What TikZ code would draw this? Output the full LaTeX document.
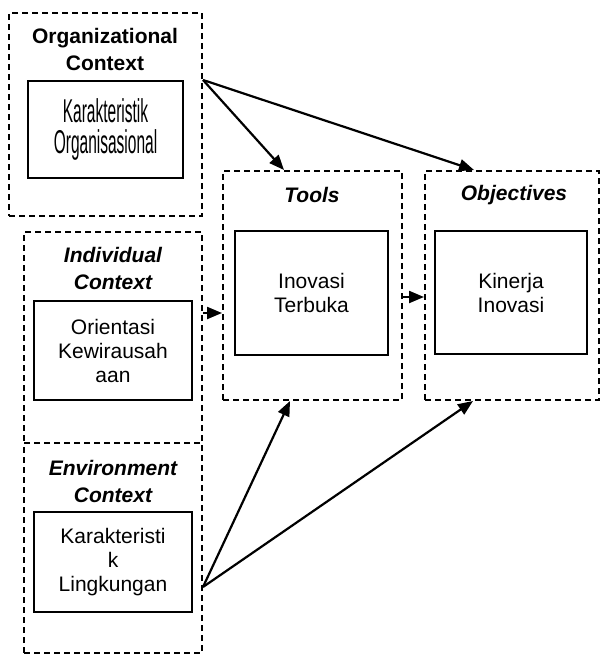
\documentclass[tikz,border=0pt]{standalone}
\usepackage{fontspec}
\setmainfont{Liberation Sans}
\newfontfamily\narrowfont[FakeStretch=0.47]{Liberation Sans}
\usetikzlibrary{arrows.meta,calc}

\begin{document}
\begin{tikzpicture}[
  x=1pt, y=-1pt,
  ctxbox/.style={draw, dashed, dash pattern=on 6pt off 4pt, line width=2pt, inner sep=0pt},
  varbox/.style={draw, line width=1.8pt, inner sep=0pt, align=center,
    font=\fontsize{21}{24}\selectfont},
  ctxtitle/.style={align=center, font=\fontsize{21}{27}\selectfont\bfseries},
  arr/.style={-{Triangle[length=15pt,width=12pt]}, line width=2.2pt},
]
\useasboundingbox (0,0) rectangle (601,655);

% ---------- context boxes ----------
\node[ctxbox, minimum width=193pt, minimum height=203pt] (org)   at (105.5,114.5) {};
\node[ctxbox, minimum width=178pt, minimum height=211pt] (indiv) at (113,337.5) {};
\node[ctxbox, minimum width=178pt, minimum height=210pt] (env)   at (113,548) {};
\node[ctxbox, minimum width=179pt, minimum height=229pt] (tools) at (312.5,285.5) {};
\node[ctxbox, minimum width=174pt, minimum height=229pt] (obj)   at (512,285.5) {};

% ---------- titles ----------
\node[ctxtitle] (orgT)   at (105,49)  {Organizational\\Context};
\node[ctxtitle] (indivT) at (113,268) {\itshape Individual\\\itshape Context};
\node[ctxtitle] (envT)   at (113,481) {\itshape Environment\\\itshape Context};
\node[ctxtitle] (toolsT) at (312,195) {\itshape Tools};
\node[ctxtitle] (objT)   at (514,195) {\itshape Objectives};

% ---------- variables ----------
\node[varbox, minimum width=155pt, minimum height=97pt,
  font=\fontsize{33}{31}\selectfont\narrowfont] (karOrg) at (105.5,129.5)
  {Karakteristik\\Organisasional};
\node[varbox, minimum width=158pt, minimum height=99pt]  (ok)     at (113,350.5) {Orientasi\\Kewirausah\\aan};
\node[varbox, minimum width=158pt, minimum height=100pt] (karLing) at (113,562)  {Karakteristi\\k\\Lingkungan};
\node[varbox, minimum width=153pt, minimum height=124pt] (inov)   at (311.5,293) {Inovasi\\Terbuka};
\node[varbox, minimum width=152pt, minimum height=123pt] (kin)    at (511,292.5) {Kinerja\\Inovasi};

% ---------- arrows ----------
\coordinate (orgOut) at ([yshift=34.5pt]org.east);
\coordinate (envOut) at ([yshift=-39pt]env.east);
\coordinate (toolsIn) at ([yshift=-27.5pt]tools.west);
\coordinate (objIn) at ([yshift=-11.5pt]obj.west);

\draw[arr] (orgOut) -- ([xshift=62pt]tools.north west);
\draw[arr] (orgOut) -- ([xshift=50pt]obj.north west);
\draw[arr] (indiv.east |- toolsIn) -- (toolsIn);
\draw[arr] (tools.east |- objIn) -- (objIn);
\draw[arr] (envOut) -- ([xshift=68pt]tools.south west);
\draw[arr] (envOut) -- ([xshift=49pt]obj.south west);

\end{tikzpicture}
\end{document}
